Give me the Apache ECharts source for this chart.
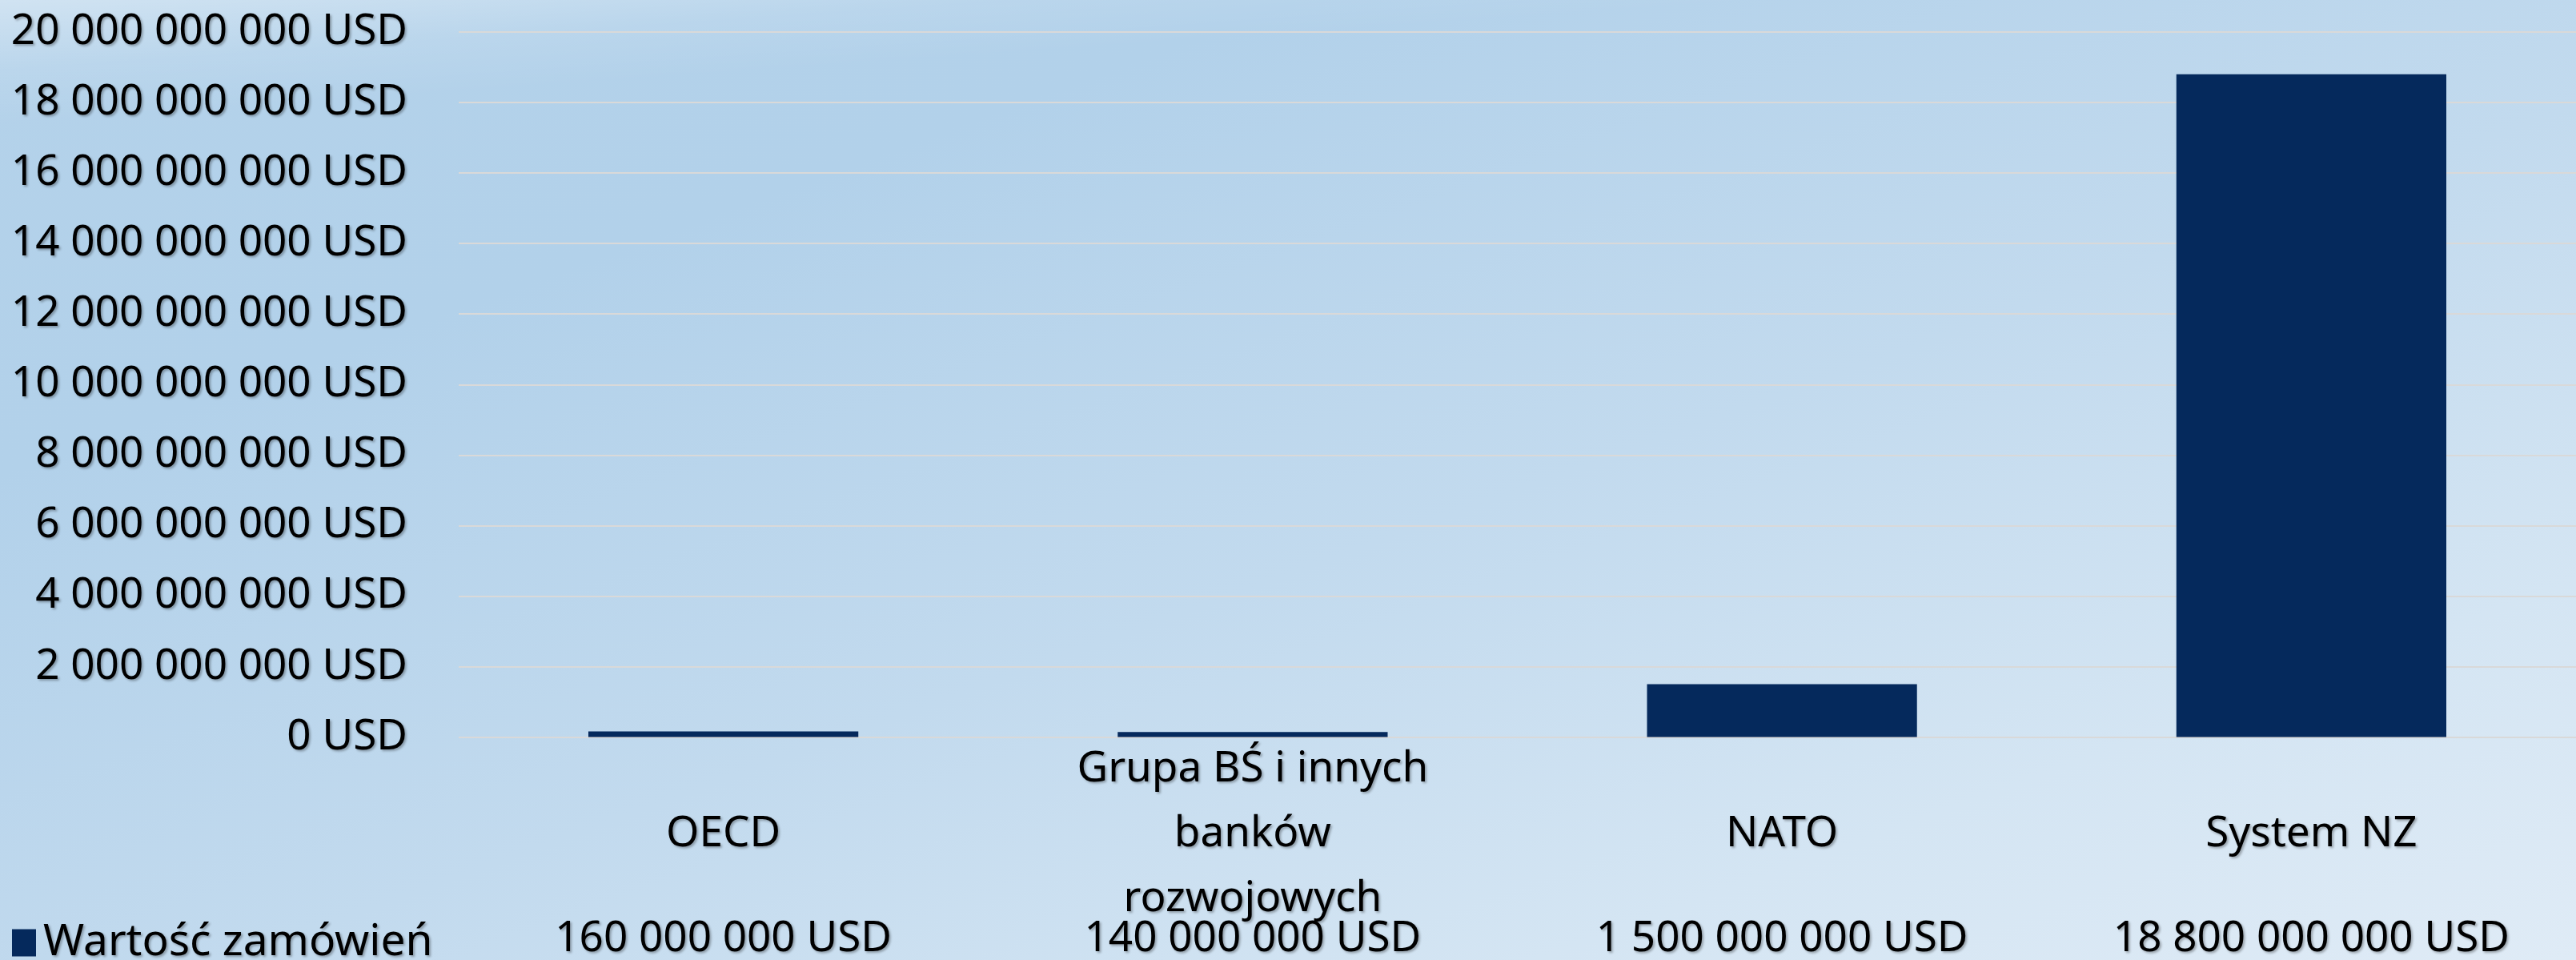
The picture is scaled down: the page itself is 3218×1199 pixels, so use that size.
<!DOCTYPE html>
<html>
<head>
<meta charset="utf-8">
<script src="https://cdn.jsdelivr.net/npm/echarts@6/dist/echarts.min.js"></script>
<style>
html, body { margin: 0; padding: 0; width: 3218px; height: 1199px; overflow: hidden; }
body {
  background:
    linear-gradient(176deg, rgba(255,255,255,0.38) 0%, rgba(255,255,255,0.10) 6%, rgba(255,255,255,0) 11%),
    linear-gradient(160deg, #b4d2ea 0%, #b2d1ea 25%, #c2daee 55%, #d4e5f3 80%, #dfebf6 100%);
}
#chart { width: 3218px; height: 1199px; }
</style>
</head>
<body>
<div id="chart"></div>
<script>
const categories = ['OECD', 'Grupa BŚ i innych\nbanków\nrozwojowych', 'NATO', 'System NZ'];
const seriesName = 'Wartość zamówień';
const values = [160000000, 140000000, 1500000000, 18800000000];
const yMin = 0;
const yMax = 20000000000;
const yInterval = 2000000000;

function fmt(v) {
  return String(Math.round(v)).replace(/\B(?=(\d{3})+(?!\d))/g, ' ') + ' USD';
}

const FONT = '"Noto Sans", sans-serif';
const FS = 53;
const shadow = { textShadowColor: 'rgba(0,0,0,0.3)', textShadowBlur: 3, textShadowOffsetX: 2, textShadowOffsetY: 2 };

const chart = echarts.init(document.getElementById('chart'), null, { renderer: 'canvas' });
chart.setOption({
  backgroundColor: 'transparent',
  animation: false,
  textStyle: { fontFamily: FONT },
  grid: { left: 573, right: 0, top: 40, bottom: 277, containLabel: false },
  legend: {
    data: [seriesName],
    left: 10,
    top: 1145,
    icon: 'rect',
    itemWidth: 30,
    itemHeight: 34,
    itemGap: 10,
    textStyle: Object.assign({ fontSize: 55, color: '#000', fontFamily: FONT, padding: [0, 0, 0, 4] }, shadow)
  },
  xAxis: [
    {
      type: 'category',
      data: categories,
      position: 'bottom',
      axisLine: { show: false },
      axisTick: { show: false },
      axisLabel: Object.assign({
        interval: 0,
        fontSize: FS,
        color: '#000',
        fontFamily: FONT,
        lineHeight: 81,
        margin: 121,
        verticalAlign: 'middle',
        align: 'center'
      }, shadow)
    },
    {
      type: 'category',
      data: values.map(fmt),
      position: 'bottom',
      axisLine: { show: false },
      axisTick: { show: false },
      axisLabel: Object.assign({
        interval: 0,
        fontSize: FS,
        color: '#000',
        fontFamily: FONT,
        margin: 252,
        verticalAlign: 'middle',
        align: 'center'
      }, shadow)
    }
  ],
  yAxis: {
    type: 'value',
    min: yMin,
    max: yMax,
    interval: yInterval,
    axisLine: { show: false },
    axisTick: { show: false },
    splitLine: { show: true, lineStyle: { color: '#d9d9d9', width: 2 } },
    axisLabel: Object.assign({
      fontSize: FS,
      color: '#000',
      fontFamily: FONT,
      margin: 64,
      formatter: fmt
    }, shadow)
  },
  series: [{
    name: seriesName,
    type: 'bar',
    xAxisIndex: 0,
    data: values,
    barWidth: '51%',
    itemStyle: { color: '#05295c' }
  }]
});
</script>
</body>
</html>
